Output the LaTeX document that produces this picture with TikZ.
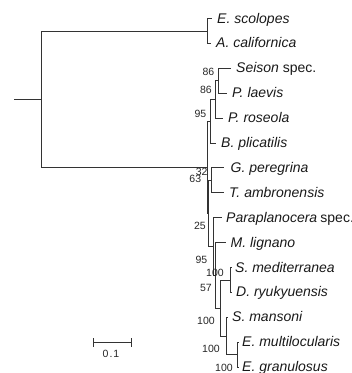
\documentclass[tikz,border=0pt]{standalone}
\usepackage{fontspec}
\setmainfont{Liberation Sans}
\begin{document}
\begin{tikzpicture}[x=1pt,y=-1pt,
  br/.style={draw=black!80,line width=0.9pt},
  sp/.style={anchor=base west,inner sep=0pt,font=\fontsize{14}{16}\selectfont\itshape,text=black!90},
  bs/.style={inner sep=0pt,font=\fontsize{10.5}{12}\selectfont,text=black!85}]
\useasboundingbox (0,0) rectangle (352,373);
% internal nodes
\coordinate (r0) at (14,99.2);
\coordinate (R) at (41,99.2);
\coordinate (O) at (207,31);
\coordinate (I) at (207,167.3);
\coordinate (Rot) at (210.5,121.2);
\coordinate (A) at (215,99.4);
\coordinate (SP) at (218,80.75);
\coordinate (X) at (208.5,213.4);
\coordinate (GT) at (211,180.35);
\coordinate (Plat) at (213,246.5);
\coordinate (M) at (215.5,275.3);
\coordinate (N) at (220,308);
\coordinate (SD) at (230,280);
\coordinate (SE) at (226,336);
\coordinate (EE) at (237,354.65);
% tips
\coordinate (Es) at (212,18.5);
\coordinate (Ac) at (211,43.4);
\coordinate (Ss) at (231,68.3);
\coordinate (Pl) at (227,93.2);
\coordinate (Pr) at (223,118.1);
\coordinate (Bp) at (216,143);
\coordinate (Gp) at (224,167.9);
\coordinate (Ta) at (224,192.8);
\coordinate (Ps) at (222,217.7);
\coordinate (Ml) at (226,242.6);
\coordinate (Sm) at (232,267.5);
\coordinate (Dr) at (232,292.4);
\coordinate (Sma) at (228,317.3);
\coordinate (Em) at (238.5,342.2);
\coordinate (Eg) at (238.5,367.1);
% branches
\draw[br] (r0) -- (R);
\draw[br] (R) |- (O);
\draw[br] (R) |- (I);
\draw[br] (O) |- (Es);
\draw[br] (O) |- (Ac);
\draw[br] (I) |- (Rot);
\draw[br] (I) |- (X);
\draw[br] (Rot) |- (A);
\draw[br] (Rot) |- (Bp);
\draw[br] (A) |- (SP);
\draw[br] (A) |- (Pr);
\draw[br] (SP) |- (Ss);
\draw[br] (SP) |- (Pl);
\draw[br] (X) |- (GT);
\draw[br] (X) |- (Plat);
\draw[br] (GT) |- (Gp);
\draw[br] (GT) |- (Ta);
\draw[br] (Plat) |- (Ps);
\draw[br] (Plat) |- (M);
\draw[br] (M) |- (Ml);
\draw[br] (M) |- (N);
\draw[br] (N) |- (SD);
\draw[br] (N) |- (SE);
\draw[br] (SD) |- (Sm);
\draw[br] (SD) |- (Dr);
\draw[br] (SE) |- (Sma);
\draw[br] (SE) |- (EE);
\draw[br] (EE) |- (Em);
\draw[br] (EE) |- (Eg);
% species labels
\node[sp] (tEs) at (217,23) {E. scolopes};
\node[sp] (tAc) at (216,47.9) {A. californica};
\node[sp] (tSs) at (236,72.8) {Seison\/ \upshape spec.};
\node[sp] (tPl) at (232,97.7) {P. laevis};
\node[sp] (tPr) at (228,122.6) {P. roseola};
\node[sp] (tBp) at (221,147.5) {B. plicatilis};
\node[sp] (tGp) at (230.5,172.4) {G. peregrina};
\node[sp] (tTa) at (229,197.3) {T. ambronensis};
\node[sp] (tPs) at (226,222.2) {Paraplanocera\hspace{3.2pt}\upshape spec.};
\node[sp] (tMl) at (230.5,247.1) {M. lignano};
\node[sp] (tSm) at (235,272) {S. mediterranea};
\node[sp] (tDr) at (236,296.9) {D. ryukyuensis};
\node[sp] (tSma) at (232,321.8) {S. mansoni};
\node[sp] (tEm) at (242,346.7) {E. multilocularis};
\node[sp] (tEg) at (242,371.6) {E. granulosus};
% bootstrap values
\node[bs] (b1) at (208.5,71.5) {86};
\node[bs] (b2) at (206,90) {86};
\node[bs] (b3) at (200.5,113.5) {95};
\node[bs] (b4) at (201.7,171.5) {32};
\node[bs] (b5) at (195.3,179) {63};
\node[bs] (b6) at (200,226) {25};
\node[bs] (b7) at (201.5,259.5) {95};
\node[bs] (b8) at (215,272.5) {100};
\node[bs] (b9) at (206,287.5) {57};
\node[bs] (b10) at (206,321) {100};
\node[bs] (b11) at (211,349) {100};
\node[bs] (b12) at (224,367.5) {100};
% scale bar
\coordinate (sb1) at (93,342);
\coordinate (sb2) at (131,342);
\draw[br] (sb1) -- (sb2);
\draw[br] ([yshift=-4.5pt]sb1) -- ([yshift=4.5pt]sb1);
\draw[br] ([yshift=-4.5pt]sb2) -- ([yshift=4.5pt]sb2);
\node[bs] (sbl) at (111,354) {0\kern1pt.\kern1pt1};
\end{tikzpicture}
\end{document}
